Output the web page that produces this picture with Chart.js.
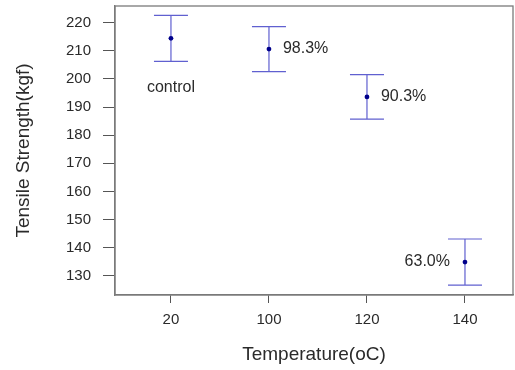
<!DOCTYPE html>
<html>
<head>
<meta charset="utf-8">
<script src="https://cdn.jsdelivr.net/npm/chart.js@4"></script>
<style>
  html, body { margin: 0; padding: 0; background: #ffffff; }
  #wrap { width: 515px; height: 370px; }
</style>
</head>
<body>
<div id="wrap"><canvas id="c" width="515" height="370"></canvas></div>
<script>
// ---- data ----
const categories = ['20', '100', '120', '140'];
const means = [214.4, 210.6, 193.6, 134.9];
const errors = [8.2, 8.0, 7.9, 8.2];
const pointLabels = ['control', '98.3%', '90.3%', '63.0%'];
const yTicks = [130, 140, 150, 160, 170, 180, 190, 200, 210, 220];

// ---- styles ----
const FONT = "'Liberation Sans', Arial, sans-serif";
const labelPlacement = ['below', 'right', 'right', 'left'];

const errorBarPlugin = {
  id: 'errorBars',
  afterDatasetsDraw(chart) {
    const ctx = chart.ctx;
    const xs = chart.scales.x, ys = chart.scales.y;
    ctx.save();
    ctx.strokeStyle = '#6060d0';
    ctx.lineWidth = 1.2;
    means.forEach((m, i) => {
      const x = xs.getPixelForValue(i);
      const yt = ys.getPixelForValue(m + errors[i]);
      const yb = ys.getPixelForValue(m - errors[i]);
      const cap = 17;
      ctx.beginPath();
      ctx.moveTo(x, yt); ctx.lineTo(x, yb);
      ctx.moveTo(x - cap, yt); ctx.lineTo(x + cap, yt);
      ctx.moveTo(x - cap, yb); ctx.lineTo(x + cap, yb);
      ctx.stroke();
    });
    ctx.fillStyle = '#00008b';
    means.forEach((m, i) => {
      const x = xs.getPixelForValue(i);
      const y = ys.getPixelForValue(m);
      ctx.beginPath();
      ctx.arc(x, y, 2.4, 0, Math.PI * 2);
      ctx.fill();
    });
    ctx.fillStyle = '#2a2a2a';
    ctx.font = '16px ' + FONT;
    ctx.textBaseline = 'middle';
    pointLabels.forEach((t, i) => {
      const x = xs.getPixelForValue(i);
      const y = ys.getPixelForValue(means[i]);
      const p = labelPlacement[i];
      if (p === 'below') {
        ctx.textAlign = 'center';
        ctx.fillText(t, x, ys.getPixelForValue(means[i] - errors[i]) + 26);
      } else if (p === 'right') {
        ctx.textAlign = 'left';
        ctx.fillText(t, x + 14, y);
      } else {
        ctx.textAlign = 'right';
        ctx.fillText(t, x - 15, y);
      }
    });
    ctx.restore();
  },
  afterDraw(chart) {
    const a = chart.chartArea;
    const ctx = chart.ctx;
    ctx.save();
    ctx.strokeStyle = '#7a7a7a';
    ctx.lineWidth = 1.3;
    ctx.strokeRect(a.left, a.top, a.right - a.left, a.bottom - a.top);
    ctx.restore();
  }
};

new Chart(document.getElementById('c'), {
  type: 'scatter',
  data: {
    datasets: [{
      data: means.map((m, i) => ({ x: i, y: m })),
      pointRadius: 0,
      showLine: false
    }]
  },
  options: {
    responsive: false,
    animation: false,
    devicePixelRatio: 1,
    layout: { padding: { top: 6, right: 2, left: 0, bottom: 0 } },
    plugins: { legend: { display: false }, tooltip: { enabled: false } },
    scales: {
      x: {
        type: 'linear',
        min: -0.571,
        max: 3.49,
        afterBuildTicks: s => { s.ticks = categories.map((c, i) => ({ value: i })); },
        afterFit: s => { s.height = 75; s.paddingLeft = 0; s.paddingRight = 0; },
        ticks: {
          callback: v => categories[v],
          font: { size: 15, family: FONT },
          color: '#2a2a2a',
          padding: 8,
          maxRotation: 0,
          autoSkip: false
        },
        grid: { drawOnChartArea: false, drawTicks: true, tickLength: 8, color: '#555' },
        border: { display: true, color: '#7a7a7a', width: 1.3 },
        title: {
          display: true,
          text: 'Temperature(oC)',
          font: { size: 19, family: FONT },
          color: '#2a2a2a',
          padding: { top: 0, bottom: 4 }
        }
      },
      y: {
        min: 123.2,
        max: 225.9,
        afterBuildTicks: s => { s.ticks = yTicks.map(v => ({ value: v })); },
        afterFit: s => { s.width = 115; s.paddingTop = 0; s.paddingBottom = 0; },
        ticks: {
          font: { size: 15, family: FONT },
          color: '#2a2a2a',
          padding: 12,
          autoSkip: false
        },
        grid: { drawOnChartArea: false, drawTicks: true, tickLength: 12, color: '#555' },
        border: { display: true, color: '#7a7a7a', width: 1.3 },
        title: {
          display: true,
          text: 'Tensile Strength(kgf)',
          font: { size: 19, family: FONT },
          color: '#2a2a2a',
          padding: { top: 12, bottom: 0 }
        }
      }
    }
  },
  plugins: [errorBarPlugin]
});
</script>
</body>
</html>
